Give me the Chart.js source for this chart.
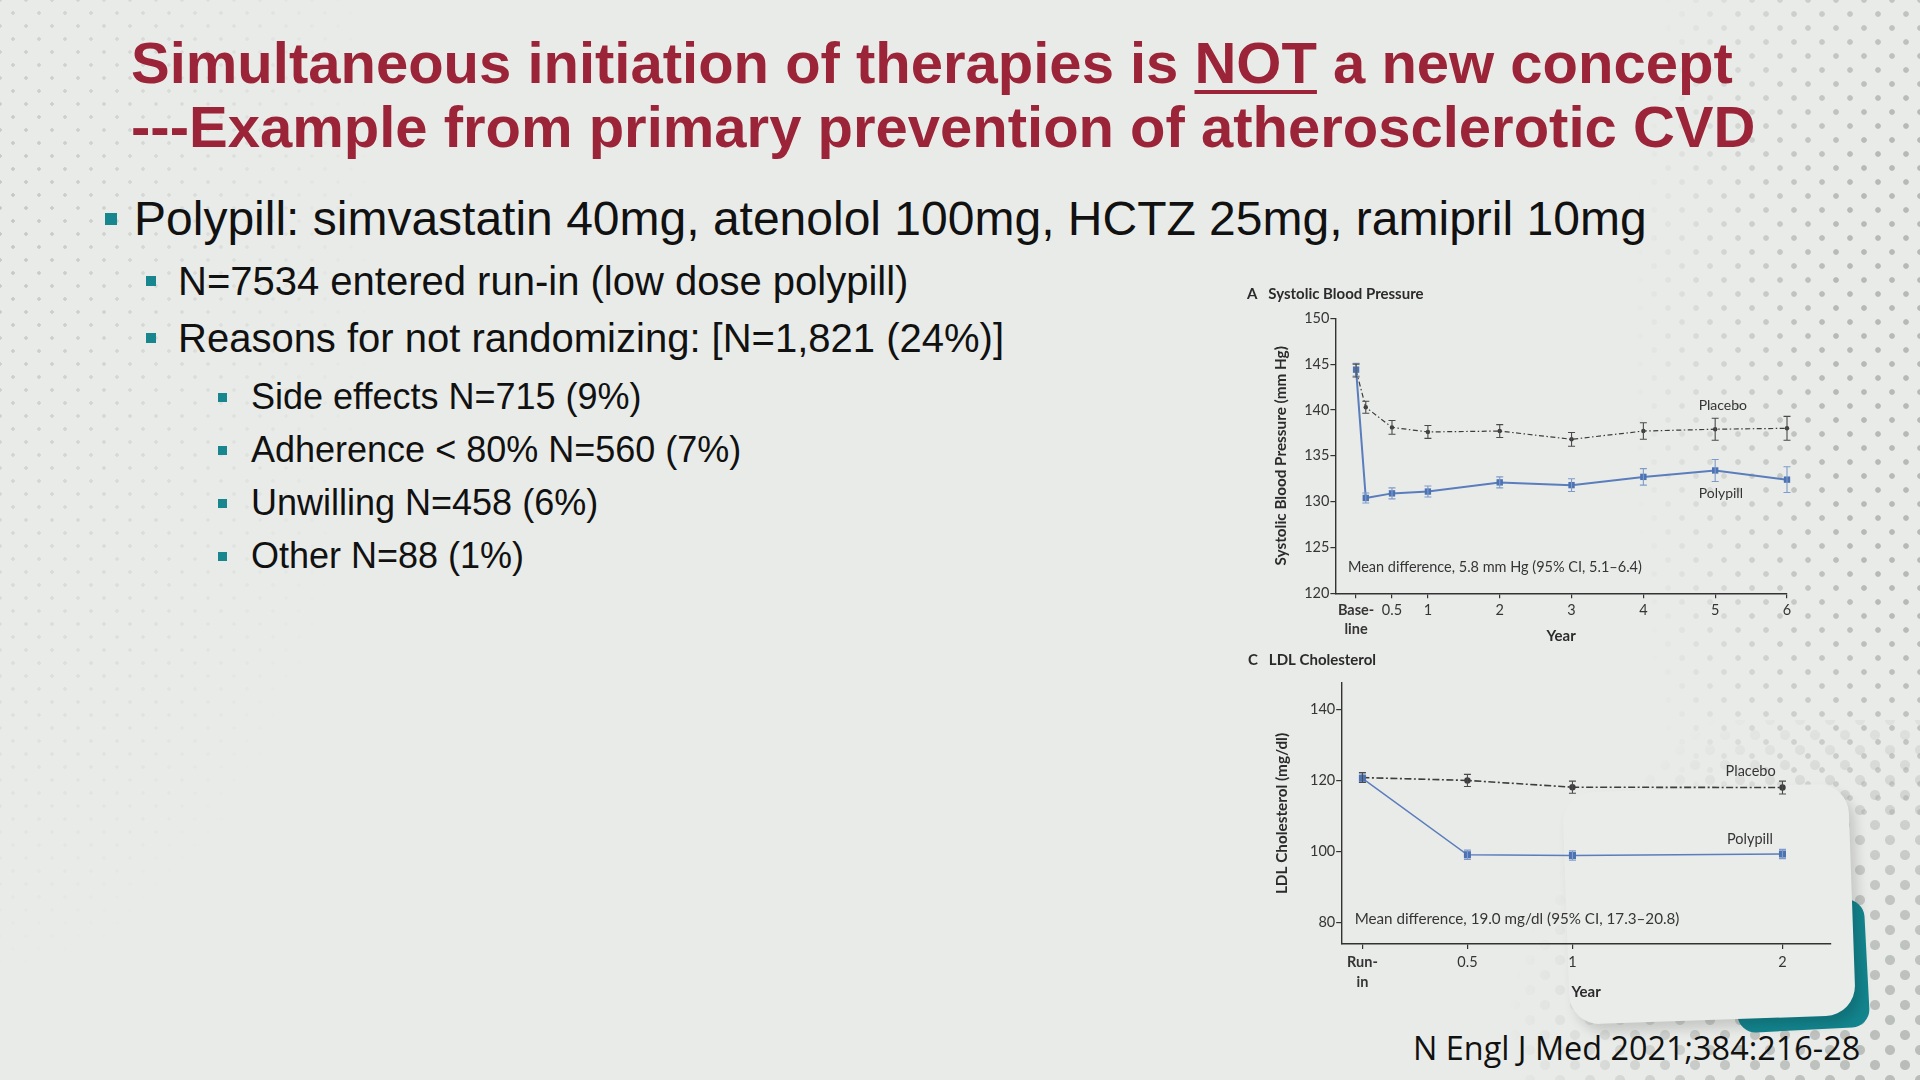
<!DOCTYPE html>
<html>
<head>
<meta charset="utf-8">
<script src="https://cdn.jsdelivr.net/npm/chart.js@4.4.1/dist/chart.umd.min.js"></script>
<style>
  html, body { margin: 0; padding: 0; }
  body {
    width: 1920px; height: 1080px; overflow: hidden; position: relative;
    background: #e9ebe8;
    font-family: "Liberation Sans", Arial, sans-serif;
  }
  .dots-left {
    position: absolute; left: 0; top: 0; width: 520px; height: 1080px;
    background-image:
      radial-gradient(circle, rgba(150,155,150,.45) 1.5px, transparent 2.1px),
      radial-gradient(circle, rgba(150,155,150,.45) 1.5px, transparent 2.1px);
    background-size: 26px 26px, 26px 26px;
    background-position: 0 0, 13px 13px;
    -webkit-mask-image: radial-gradient(ellipse 380px 760px at 0 220px, #000 0%, rgba(0,0,0,.45) 45%, transparent 100%);
    mask-image: radial-gradient(ellipse 380px 760px at 0 220px, #000 0%, rgba(0,0,0,.45) 45%, transparent 100%);
  }
  .dots-right-top {
    position: absolute; left: 1500px; top: 0; width: 420px; height: 820px;
    background-image:
      radial-gradient(circle, rgba(160,165,160,.7) 2.4px, transparent 3.2px),
      radial-gradient(circle, rgba(160,165,160,.7) 2.4px, transparent 3.2px);
    background-size: 28px 28px, 28px 28px;
    background-position: 0 0, 14px 14px;
    -webkit-mask-image: radial-gradient(ellipse 360px 1000px at 100% 45%, #000 0%, #000 25%, transparent 80%);
    mask-image: radial-gradient(ellipse 360px 1000px at 100% 45%, #000 0%, #000 25%, transparent 80%);
  }
  .dots-right-bottom {
    position: absolute; left: 1500px; top: 720px; width: 420px; height: 360px;
    background-image:
      radial-gradient(circle, rgba(168,172,168,.75) 4.5px, transparent 5.5px),
      radial-gradient(circle, rgba(168,172,168,.75) 4.5px, transparent 5.5px);
    background-size: 30px 30px, 30px 30px;
    background-position: 0 0, 15px 15px;
    -webkit-mask-image: radial-gradient(ellipse 420px 420px at 100% 100%, #000 0%, rgba(0,0,0,.8) 45%, transparent 100%);
    mask-image: radial-gradient(ellipse 420px 420px at 100% 100%, #000 0%, rgba(0,0,0,.8) 45%, transparent 100%);
  }
  .teal {
    position: absolute; left: 1735px; top: 902px; width: 132px; height: 128px;
    background: #13858e; border-radius: 18px; transform: rotate(-3deg);
  }
  .card {
    position: absolute; left: 1566px; top: 788px; width: 286px; height: 232px;
    background: #eaecea; border-radius: 30px;
    box-shadow: 6px 8px 12px rgba(0,0,0,.15);
    transform: rotate(-2deg);
  }
  .t { position: absolute; white-space: nowrap; line-height: 1; }
  .title { font-size: 58px; font-weight: bold; color: #9c2438; left: 131px; }
  .title u { text-decoration-thickness: 3.5px; text-underline-offset: 7px; }
  .l1 { font-size: 48px; color: #111; left: 134px; }
  .l2 { font-size: 40px; color: #111; left: 178px; }
  .l3 { font-size: 36px; color: #111; left: 251px; }
  .b { position: absolute; background: #17868f; }
  .cite { font-family: "Open Sans", sans-serif; font-size: 32.4px; color: #111; left: 1413px; top: 1031px; }
  .panel { position: absolute; left: 1240px; }
</style>
</head>
<body>
<div class="dots-left"></div>
<div class="dots-right-top"></div>
<div class="dots-right-bottom"></div>
<div class="teal"></div>
<div class="card"></div>

<div class="t title" style="top:34px">Simultaneous initiation of therapies is <u>NOT</u> a new concept</div>
<div class="t title" style="top:98px">---Example from primary prevention of atherosclerotic CVD</div>

<div class="b" style="left:105px; top:213px; width:12px; height:12px"></div>
<div class="t l1" style="top:195px">Polypill: simvastatin 40mg, atenolol 100mg, HCTZ 25mg, ramipril 10mg</div>

<div class="b" style="left:146px; top:276px; width:10px; height:10px"></div>
<div class="t l2" style="top:261px">N=7534 entered run-in (low dose polypill)</div>
<div class="b" style="left:146px; top:333px; width:10px; height:10px"></div>
<div class="t l2" style="top:318px">Reasons for not randomizing: [N=1,821 (24%)]</div>

<div class="b" style="left:218px; top:393px; width:9px; height:9px"></div>
<div class="t l3" style="top:379px">Side effects N=715 (9%)</div>
<div class="b" style="left:218px; top:446px; width:9px; height:9px"></div>
<div class="t l3" style="top:432px">Adherence &lt; 80% N=560 (7%)</div>
<div class="b" style="left:218px; top:499px; width:9px; height:9px"></div>
<div class="t l3" style="top:485px">Unwilling N=458 (6%)</div>
<div class="b" style="left:218px; top:552px; width:9px; height:9px"></div>
<div class="t l3" style="top:538px">Other N=88 (1%)</div>

<canvas id="sbp" class="panel" width="560" height="370" style="top:282px"></canvas>
<canvas id="ldl" class="panel" width="600" height="360" style="top:648px"></canvas>

<div class="t cite">N Engl J Med 2021;384:216-28</div>

<script>
  /* ---- DATA: panel A, systolic blood pressure ---- */
  const sbpYears = [0, 0.135, 0.5, 1, 2, 3, 4, 5, 6];
  const sbpPolypill = [144.4, 130.4, 130.9, 131.1, 132.1, 131.8, 132.7, 133.4, 132.4];
  const sbpPolypillErr = [0.7, 0.55, 0.6, 0.6, 0.6, 0.7, 0.9, 1.2, 1.4];
  const sbpPlacebo = [144.3, 140.3, 138.1, 137.6, 137.7, 136.8, 137.7, 137.9, 138.0];
  const sbpPlaceboErr = [0.7, 0.65, 0.75, 0.7, 0.7, 0.75, 0.9, 1.2, 1.3];
  const sbpTicksX = [0, 0.5, 1, 2, 3, 4, 5, 6];
  const sbpTickLabelsX = [['Base-', 'line'], '0.5', '1', '2', '3', '4', '5', '6'];
  const sbpTicksY = [120, 125, 130, 135, 140, 145, 150];

  /* ---- DATA: panel C, LDL cholesterol ---- */
  const ldlYears = [0, 0.5, 1, 2];
  const ldlPolypill = [120.6, 99.1, 98.9, 99.3];
  const ldlPolypillErr = [1.2, 1.3, 1.3, 1.3];
  const ldlPlacebo = [120.8, 120.0, 118.1, 118.0];
  const ldlPlaceboErr = [1.4, 1.7, 1.7, 1.8];
  const ldlTicksX = [0, 0.5, 1, 2];
  const ldlTickLabelsX = [['Run-', 'in'], '0.5', '1', '2'];
  const ldlTicksY = [80, 100, 120, 140];

  const AXIS = '#333';
  const TEXT = '#353535';
  const BLUE = '#4b72b2';
  const BLUE_LINE = '#5a7dbd';
  const DARK = '#3d3d3d';
  const FONT = 'Lato, "Open Sans", sans-serif';

  Chart.defaults.font.family = FONT;
  Chart.defaults.color = TEXT;

  // vertical error bars with caps, read from dataset.errors
  const errorBars = {
    id: 'errorBars',
    afterDatasetsDraw(chart) {
      const { ctx, scales: { x, y } } = chart;
      chart.data.datasets.forEach(ds => {
        if (!ds.errors) return;
        ctx.save();
        ctx.strokeStyle = ds.errColor;
        ctx.lineWidth = 1.1;
        ds.data.forEach((p, j) => {
          const e = ds.errors[j];
          const px = x.getPixelForValue(p.x);
          const top = y.getPixelForValue(p.y + e);
          const bot = y.getPixelForValue(p.y - e);
          const cap = 3.5;
          ctx.beginPath();
          ctx.moveTo(px, top); ctx.lineTo(px, bot);
          ctx.moveTo(px - cap, top); ctx.lineTo(px + cap, top);
          ctx.moveTo(px - cap, bot); ctx.lineTo(px + cap, bot);
          ctx.stroke();
        });
        ctx.restore();
      });
    }
  };

  // text notes placed at data coordinates
  const notes = {
    id: 'notes',
    afterDraw(chart, args, opts) {
      const { ctx, scales: { x, y } } = chart;
      ctx.save();
      ctx.fillStyle = TEXT;
      ctx.textBaseline = 'middle';
      ctx.textAlign = 'left';
      opts.items.forEach(it => {
        ctx.font = (it.size || 14.5) + 'px ' + FONT;
        ctx.fillText(it.text, x.getPixelForValue(it.x), y.getPixelForValue(it.y));
      });
      ctx.restore();
    }
  };

  function toPoints(xs, ys) {
    return xs.map((x, i) => ({ x: x, y: ys[i] }));
  }

  function buildPanel(id, cfg) {
    new Chart(document.getElementById(id), {
      type: 'line',
      data: {
        datasets: [
          {
            label: 'Polypill',
            data: toPoints(cfg.years, cfg.polypill),
            errors: cfg.polypillErr,
            errColor: '#7f9bcb',
            borderColor: BLUE_LINE,
            borderWidth: cfg.polyWidth,
            backgroundColor: BLUE,
            pointStyle: 'rect',
            pointRadius: cfg.polyRadius,
            pointBorderWidth: 0,
            tension: 0,
            clip: false
          },
          {
            label: 'Placebo',
            data: toPoints(cfg.years, cfg.placebo),
            errors: cfg.placeboErr,
            errColor: '#4a4a4a',
            borderColor: DARK,
            borderWidth: cfg.placWidth,
            borderDash: cfg.dash,
            backgroundColor: DARK,
            pointStyle: 'circle',
            pointRadius: cfg.placRadius,
            pointBorderWidth: 0,
            tension: 0,
            clip: false
          }
        ]
      },
      options: {
        responsive: false,
        animation: false,
        events: [],
        layout: { padding: cfg.padding },
        plugins: {
          legend: { display: false },
          tooltip: { enabled: false },
          title: {
            display: true,
            align: 'start',
            text: cfg.title,
            color: '#2b2b2b',
            font: { size: 15, weight: 'bold', lineHeight: 1.2 },
            padding: cfg.titlePad
          },
          notes: { items: cfg.notes }
        },
        scales: {
          x: {
            type: 'linear',
            min: cfg.xMin,
            max: cfg.xMax,
            afterBuildTicks: s => { s.ticks = cfg.ticksX.map(v => ({ value: v })); },
            afterFit: s => { s.height = cfg.xHeight; },
            ticks: {
              autoSkip: false,
              maxRotation: 0,
              padding: 3,
              color: TEXT,
              callback: (v, i) => cfg.tickLabelsX[i],
              font: c => ({ size: 14.5, lineHeight: cfg.xLine, weight: c.index === 0 ? 'bold' : 'normal' })
            },
            grid: { drawOnChartArea: false, tickLength: 5, tickColor: AXIS, lineWidth: 1.2 },
            border: { color: AXIS, width: 1.4 },
            title: {
              display: true,
              text: 'Year',
              color: '#2b2b2b',
              font: { size: 15, weight: 'bold', lineHeight: 1.2 },
              padding: { top: 0, bottom: 0 }
            }
          },
          y: {
            min: cfg.yMin,
            max: cfg.yMax,
            afterBuildTicks: s => { s.ticks = cfg.ticksY.map(v => ({ value: v })); },
            afterFit: s => { s.width = cfg.yWidth; },
            ticks: { padding: 1, color: TEXT, font: { size: 14.5 } },
            grid: { drawOnChartArea: false, tickLength: 5, tickColor: AXIS, lineWidth: 1.2 },
            border: { color: AXIS, width: 1.4 },
            title: {
              display: true,
              text: cfg.yTitle,
              color: '#2b2b2b',
              font: { size: 15.3, weight: 'bold', lineHeight: 1.2 },
              padding: { top: cfg.yTitlePad, bottom: 0 }
            }
          }
        }
      },
      plugins: [errorBars, notes]
    });
  }

  buildPanel('sbp', {
    title: 'A   Systolic Blood Pressure',
    yTitle: 'Systolic Blood Pressure (mm Hg)',
    years: sbpYears,
    polypill: sbpPolypill, polypillErr: sbpPolypillErr,
    placebo: sbpPlacebo, placeboErr: sbpPlaceboErr,
    ticksX: sbpTicksX, tickLabelsX: sbpTickLabelsX, ticksY: sbpTicksY,
    xMin: -0.288, xMax: 6, yMin: 120, yMax: 150,
    padding: { left: 7, right: 13, top: 0, bottom: 7 },
    titlePad: { top: 3, bottom: 15.3 },
    xHeight: 51.7, xLine: 1.27,
    yWidth: 88.4, yTitlePad: 25.2,
    polyWidth: 2, polyRadius: 4.5,
    placWidth: 1.2, placRadius: 2.2, dash: [5, 2.5, 1.5, 2.5],
    notes: [
      { text: 'Placebo', x: 4.77, y: 140.5, size: 14 },
      { text: 'Polypill', x: 4.77, y: 130.9, size: 14 },
      { text: 'Mean difference, 5.8 mm Hg (95% CI, 5.1\u20136.4)', x: -0.113, y: 122.8 }
    ]
  });

  buildPanel('ldl', {
    title: 'C   LDL Cholesterol',
    yTitle: 'LDL Cholesterol (mg/dl)',
    years: ldlYears,
    polypill: ldlPolypill, polypillErr: ldlPolypillErr,
    placebo: ldlPlacebo, placeboErr: ldlPlaceboErr,
    ticksX: ldlTicksX, tickLabelsX: ldlTickLabelsX, ticksY: ldlTicksY,
    xMin: -0.101, xMax: 2.231, yMin: 74, yMax: 147.4,
    padding: { left: 8, right: 9, top: 0, bottom: 7.3 },
    titlePad: { top: 3, bottom: 14 },
    xHeight: 56.7, xLine: 1.38,
    yWidth: 93.2, yTitlePad: 25.2,
    polyWidth: 1.5, polyRadius: 5,
    placWidth: 1.6, placRadius: 3.2, dash: [7, 2.5, 2, 2.5],
    notes: [
      { text: 'Placebo', x: 1.729, y: 122.65, size: 14.5 },
      { text: 'Polypill', x: 1.736, y: 103.3, size: 14.5 },
      { text: 'Mean difference, 19.0 mg/dl (95% CI, 17.3\u201320.8)', x: -0.037, y: 81.05, size: 15.2 }
    ]
  });
</script>
</body>
</html>
